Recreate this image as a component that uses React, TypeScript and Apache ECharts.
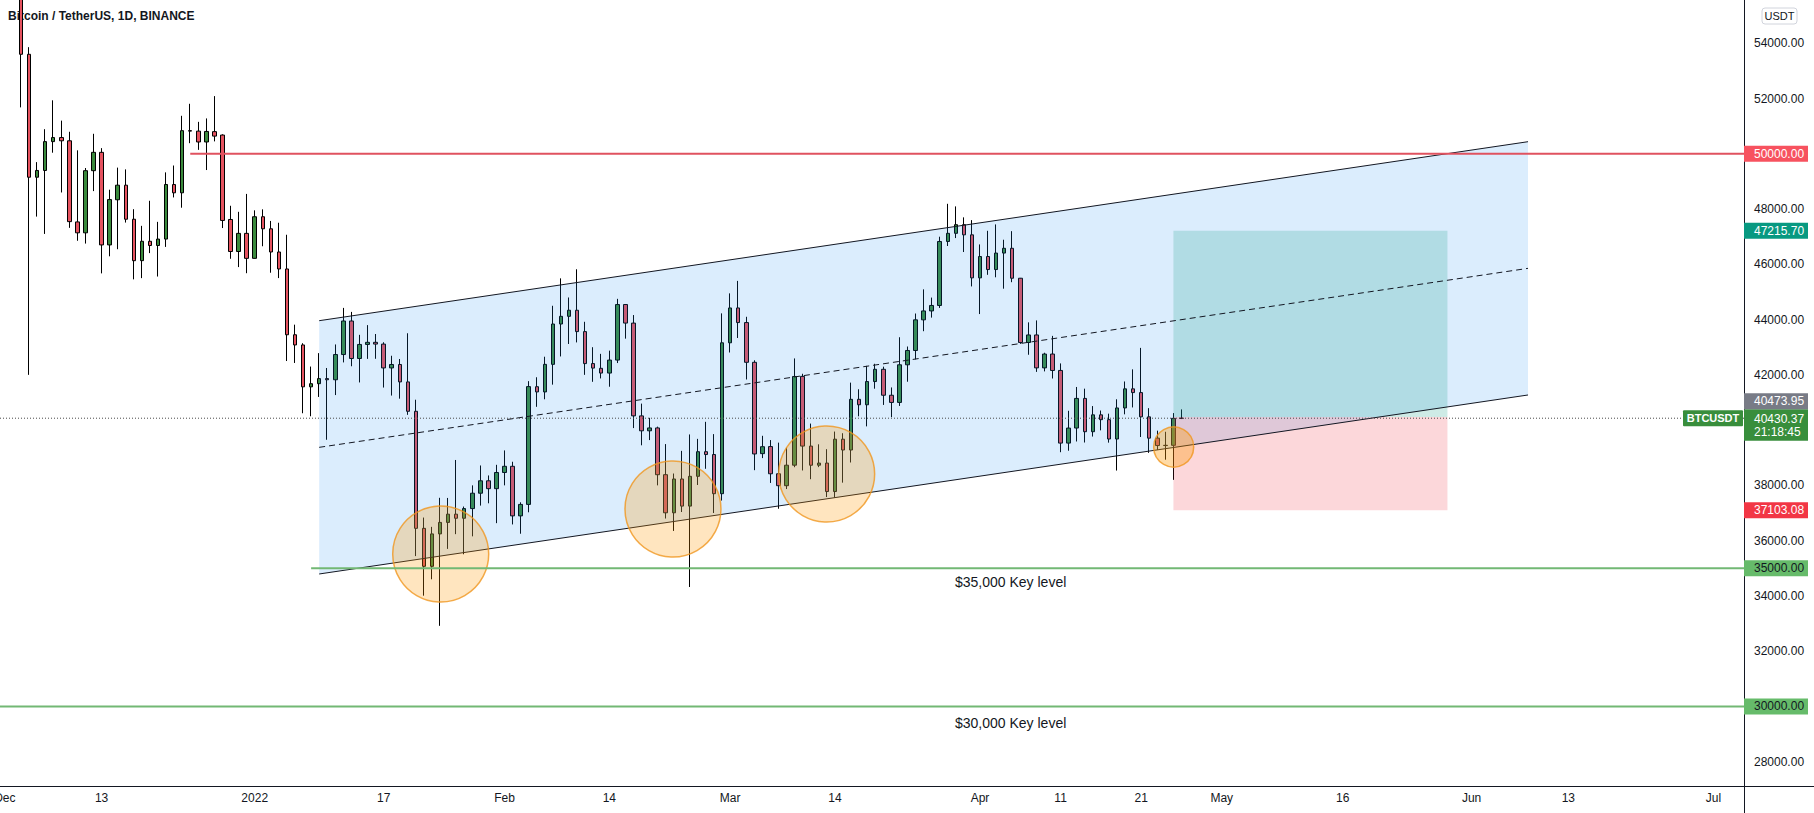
import { useEffect, useRef } from 'react';
import * as echarts from 'echarts';

const FONT = "'Liberation Sans', Arial, sans-serif";

// day index 0 = 1 Dec 2021; candles start on 3 Dec 2021
const firstCandleDay = 2;
// each candle: [open, close, low, high]
const dec21 = [
  [56508, 53601, 51680, 57600], [53601, 49152, 42000, 53859], [49152, 49397, 47727, 49699],
  [49397, 50441, 47100, 50891], [50441, 50588, 50039, 51936], [50588, 50471, 48600, 51200],
  [50471, 47545, 47320, 50797], [47535, 47140, 46852, 50125], [47140, 49389, 46751, 49485],
  [49389, 50053, 48650, 50724], [50053, 46702, 45672, 50205], [46702, 48343, 46290, 48700],
  [48336, 48864, 46547, 49500], [48864, 47632, 47511, 49436], [47632, 46131, 45456, 47995],
  [46133, 46834, 45500, 47392], [46834, 46681, 46406, 48300], [46681, 46914, 45558, 47537],
  [46914, 48889, 46630, 49328], [48887, 48588, 48421, 49576], [48588, 50838, 48049, 51375],
  [50838, 50821, 50384, 51810], [50820, 50428, 50142, 51156], [50428, 50809, 49412, 51280],
  [50802, 50640, 50449, 52088], [50679, 47588, 47313, 50704], [47623, 46464, 46201, 48119],
  [46464, 47120, 45900, 47900], [47120, 46216, 45678, 48548],
];
const jan22 = [
  [46216, 47722, 46208, 47954], [47722, 47286, 46654, 47990], [47286, 46446, 45696, 47570],
  [46446, 45832, 45502, 47505], [45832, 43451, 42500, 47070], [43451, 43082, 42430, 43816],
  [43082, 41566, 40610, 43145], [41566, 41680, 40501, 42300], [41680, 41864, 41200, 42786],
  [41864, 41822, 39650, 42248], [41822, 42735, 41268, 43100], [42735, 43949, 42450, 44423],
  [43949, 42592, 42311, 44278], [42592, 43100, 41725, 43448], [43100, 43177, 42578, 43800],
  [43177, 43113, 42581, 43478], [43113, 42250, 41540, 43180], [42250, 42375, 41250, 42691],
  [42375, 41744, 41138, 42574], [41744, 40681, 40553, 43505], [40681, 36445, 35440, 41100],
  [36445, 35071, 34008, 36835], [35071, 36244, 34601, 36499], [36244, 36660, 32917, 37550],
  [36660, 36958, 35701, 37545], [36958, 36810, 36234, 38919], [36810, 37160, 35507, 37234],
  [37160, 37716, 36155, 38000], [37716, 38166, 37268, 38720], [38166, 37881, 37351, 38359],
  [37881, 38466, 36632, 38744],
];
const feb22 = [
  [38466, 38690, 38000, 39265], [38690, 36896, 36586, 38855], [36896, 37311, 36250, 37387],
  [37311, 41574, 37026, 41772], [41571, 41382, 40843, 41913], [41382, 42380, 41116, 42656],
  [42380, 43840, 41645, 44500], [43840, 44118, 42666, 45492], [44118, 44339, 43117, 44800],
  [44338, 43565, 43174, 45821], [43565, 42407, 42000, 43920], [42408, 42244, 41748, 43000],
  [42236, 42064, 41870, 42760], [42064, 42535, 41570, 42876], [42535, 44544, 42427, 44751],
  [44545, 43873, 43310, 44549], [43873, 40515, 40073, 44164], [40515, 39975, 39450, 40959],
  [39975, 40079, 39639, 40444], [40079, 38386, 38000, 40125], [38387, 37008, 36800, 39494],
  [37008, 38231, 36351, 38429], [38231, 37250, 37036, 39249], [37250, 38328, 34322, 39843],
  [38328, 39219, 38014, 39683], [39219, 39116, 38600, 40300], [39116, 37699, 37000, 39855],
  [37699, 43160, 37450, 44225],
];
const mar22 = [
  [43160, 44421, 42809, 44949], [44421, 43892, 43334, 45400], [43892, 42454, 41832, 44101],
  [42454, 39137, 38550, 42527], [39148, 39400, 38987, 39794], [39404, 38420, 38088, 39640],
  [38420, 37988, 37155, 39547], [37988, 38730, 37867, 39362], [38731, 41941, 38657, 42594],
  [41945, 39422, 38539, 42039], [39422, 38729, 38223, 40236], [38730, 38807, 38660, 39486],
  [38807, 37777, 37578, 39310], [37777, 39671, 37555, 39947], [39671, 39280, 38098, 39887],
  [39280, 41114, 38828, 41718], [41114, 40917, 40500, 41478], [40917, 41757, 40135, 42325],
  [41757, 42201, 41499, 42400], [42201, 41262, 40911, 42296], [41262, 41002, 40468, 41544],
  [41002, 42364, 40875, 43361], [42364, 42882, 41751, 43025], [42882, 43991, 42560, 44220],
  [43991, 44313, 43579, 45094], [44313, 44511, 44071, 44796], [44511, 46827, 44422, 46999],
  [46827, 47122, 46663, 48190], [47122, 47434, 46950, 48096], [47434, 47067, 46445, 47700],
  [47067, 45510, 45200, 47600],
];
const apr22 = [
  [45510, 46283, 44200, 46720], [46283, 45811, 45620, 47213], [45811, 46407, 45530, 47444],
  [46407, 46580, 45118, 46890], [46580, 45497, 45353, 47200], [45497, 43170, 43121, 45507],
  [43171, 43444, 42727, 43900], [43444, 42252, 42107, 43970], [42252, 42753, 42125, 42800],
  [42753, 42158, 41868, 43410], [42159, 39530, 39200, 42414], [39530, 40074, 39254, 40699],
  [40075, 41147, 39588, 41561], [41147, 39942, 39551, 41500], [39942, 40552, 39766, 40870],
  [40552, 40378, 39991, 40709], [40378, 39678, 39546, 40595], [39678, 40802, 38536, 41116],
  [40802, 41493, 40571, 41760], [41493, 41358, 40820, 42199], [41358, 40480, 39751, 42976],
  [40480, 39709, 39177, 40795], [39709, 39441, 39285, 39980], [39441, 39450, 38929, 39940],
  [39450, 40426, 38200, 40616], [40426, 40430.37, 40400, 40750],
];

const xTickDays = [0, 12, 31, 47, 62, 75, 90, 103, 121, 131, 141, 151, 166, 182, 194, 212];
const xTickLabels = ['Dec', '13', '2022', '17', 'Feb', '14', 'Mar', '14', 'Apr', '11', '21', 'May', '16', 'Jun', '13', 'Jul'];
const yTickValues = [28000, 32000, 34000, 36000, 38000, 42000, 44000, 46000, 48000, 52000, 54000];

const xMin = -0.6055;
const xMax = 215.8;
const yMin = 27120;
const yMax = 55566;

// drawings
const channelDays = [39, 189];
const channelTop = [43960, 50438];
const channelBottom = [34793, 41271];

const levelPrices = [50000, 35000, 30000];
const levelStartDays = [23, 38, xMin];
const levelColors = ['#e0525f', '#72b874', '#72b874'];
const keyLevelTexts = ['$35,000 Key level', '$30,000 Key level'];
const keyLevelTextDay = 124.8;
const keyLevelTextPrices = [34504, 29401];

const circleDays = [54.08, 82.9, 101.97, 145.03];
const circlePrices = [35517, 37145, 38412, 39389];
const circleRadii = [48, 48, 48, 20];
const circleAlphas = [0.25, 0.25, 0.25, 0.35];

const positionDays = [145, 179];
const entryPrice = 40473.95;
const targetPrice = 47215.7;
const stopPrice = 37103.08;
const lastPrice = 40430.37;
const countdown = '21:18:45';

const axisTags = [
  { price: 50000, bg: '#f7525f', fg: '#ffffff' },
  { price: 47215.7, bg: '#089981', fg: '#ffffff' },
  { price: 37103.08, bg: '#f23645', fg: '#ffffff' },
  { price: 35000, bg: '#66bb6a', fg: '#131722' },
  { price: 30000, bg: '#66bb6a', fg: '#131722' },
];

const candleData = [...dec21, ...jan22, ...feb22, ...mar22, ...apr22].map((c, i) => [
  firstCandleDay + i, c[0], c[1], c[2], c[3],
]);

function seg(a: number[], b: number[], stroke: string, lineWidth: number, dash?: number[]) {
  return {
    type: 'line',
    shape: { x1: a[0], y1: a[1], x2: b[0], y2: b[1] },
    style: { stroke, lineWidth, lineDash: dash || null, fill: null },
  };
}

function renderDrawings(params: any, api: any) {
  const cs = params.coordSys;
  const right = cs.x + cs.width;
  const pt = (d: number, p: number) => api.coord([d, p]);
  const kids: any[] = [];

  const tl = pt(channelDays[0], channelTop[0]);
  const tr = pt(channelDays[1], channelTop[1]);
  const bl = pt(channelDays[0], channelBottom[0]);
  const br = pt(channelDays[1], channelBottom[1]);
  kids.push({ type: 'polygon', shape: { points: [tl, tr, br, bl] }, style: { fill: 'rgba(33,140,243,0.16)' } });

  // long position
  const eL = pt(positionDays[0], entryPrice);
  const eR = pt(positionDays[1], entryPrice);
  const tY = pt(positionDays[0], targetPrice)[1];
  const sY = pt(positionDays[0], stopPrice)[1];
  kids.push({ type: 'rect', shape: { x: eL[0], y: tY, width: eR[0] - eL[0], height: eL[1] - tY }, style: { fill: 'rgba(8,153,129,0.2)' } });
  kids.push({ type: 'rect', shape: { x: eL[0], y: eL[1], width: eR[0] - eL[0], height: sY - eL[1] }, style: { fill: 'rgba(242,54,69,0.2)' } });

  // channel lines
  kids.push(seg(tl, tr, '#131722', 1));
  kids.push(seg(bl, br, '#131722', 1));
  const ml = [(tl[0] + bl[0]) / 2, (tl[1] + bl[1]) / 2];
  const mr = [(tr[0] + br[0]) / 2, (tr[1] + br[1]) / 2];
  kids.push(seg(ml, mr, '#131722', 1, [6, 4]));

  // circles
  circleDays.forEach((d, i) => {
    const c = pt(d, circlePrices[i]);
    kids.push({
      type: 'circle',
      shape: { cx: c[0], cy: c[1], r: circleRadii[i] },
      style: { fill: `rgba(255,152,0,${circleAlphas[i]})`, stroke: 'rgba(240,150,30,0.8)', lineWidth: 1.5 },
    });
  });

  // horizontal levels
  levelPrices.forEach((p, i) => {
    const a = pt(levelStartDays[i], p);
    kids.push(seg(a, [right, a[1]], levelColors[i], 2));
  });

  keyLevelTexts.forEach((t, i) => {
    const c = pt(keyLevelTextDay, keyLevelTextPrices[i]);
    kids.push({
      type: 'text', x: c[0], y: c[1],
      style: { text: t, fill: '#131722', font: `14px ${FONT}`, align: 'center', verticalAlign: 'middle' },
    });
  });

  // last price line
  const lp = pt(xMin, lastPrice);
  kids.push(seg([cs.x, lp[1]], [right, lp[1]], '#4a4a4a', 1, [1, 2]));

  // symbol label
  kids.push({ type: 'rect', shape: { x: right - 61, y: lp[1] - 8, width: 60, height: 16, r: 1 }, style: { fill: '#388e3c' } });
  kids.push({
    type: 'text', x: right - 31, y: lp[1],
    style: { text: 'BTCUSDT', fill: '#ffffff', font: `bold 11px ${FONT}`, align: 'center', verticalAlign: 'middle' },
  });

  // axis tags
  const tagW = 64;
  axisTags.forEach((t) => {
    const y = pt(xMin, t.price)[1];
    kids.push({ type: 'rect', shape: { x: right, y: y - 8, width: tagW, height: 16 }, style: { fill: t.bg } });
    kids.push({
      type: 'text', x: right + 10, y,
      style: { text: t.price.toFixed(2), fill: t.fg, font: `12px ${FONT}`, align: 'left', verticalAlign: 'middle' },
    });
  });
  const gTop = lp[1] - 9;
  kids.push({ type: 'rect', shape: { x: right, y: gTop, width: tagW, height: 31.5 }, style: { fill: '#388e3c' } });
  kids.push({
    type: 'text', x: right + 10, y: gTop + 9.5,
    style: { text: lastPrice.toFixed(2), fill: '#ffffff', font: `12px ${FONT}`, align: 'left', verticalAlign: 'middle' },
  });
  kids.push({
    type: 'text', x: right + 10, y: gTop + 23,
    style: { text: countdown, fill: '#ffffff', font: `12px ${FONT}`, align: 'left', verticalAlign: 'middle' },
  });
  kids.push({ type: 'rect', shape: { x: right, y: gTop - 16, width: tagW, height: 16 }, style: { fill: '#787b86' } });
  kids.push({
    type: 'text', x: right + 10, y: gTop - 8,
    style: { text: entryPrice.toFixed(2), fill: '#ffffff', font: `12px ${FONT}`, align: 'left', verticalAlign: 'middle' },
  });

  return { type: 'group', children: kids };
}

export default function App() {
  const ref = useRef<HTMLDivElement>(null);

  useEffect(() => {
    document.body.style.margin = '0';
    if (!ref.current) return;
    const chart = echarts.init(ref.current, null, { renderer: 'svg' });
    chart.setOption({
      animation: false,
      backgroundColor: '#ffffff',
      grid: { left: 0, right: 70, top: 0, bottom: 27, containLabel: false, outerBoundsMode: 'none' },
      xAxis: {
        type: 'value',
        min: xMin,
        max: xMax,
        splitLine: { show: false },
        axisTick: { show: false },
        axisLine: { show: true, onZero: false, lineStyle: { color: '#131722', width: 1 } },
        axisLabel: {
          customValues: xTickDays,
          formatter: (v: number) => {
            const i = xTickDays.indexOf(Math.round(v));
            return i >= 0 ? xTickLabels[i] : '';
          },
          color: '#131722',
          fontSize: 12,
          fontFamily: FONT,
          margin: 6,
          hideOverlap: false,
        },
      },
      yAxis: {
        type: 'value',
        position: 'right',
        min: yMin,
        max: yMax,
        splitLine: { show: false },
        axisTick: { show: false },
        axisLine: { show: true, onZero: false, lineStyle: { color: '#131722', width: 1 } },
        axisLabel: {
          customValues: yTickValues,
          formatter: (v: number) => v.toFixed(2),
          color: '#131722',
          fontSize: 12,
          fontFamily: FONT,
          margin: 10,
        },
      },
      graphic: [
        {
          type: 'text', left: 8, top: 10, z: 0,
          style: { text: 'Bitcoin / TetherUS, 1D, BINANCE', fill: '#131722', font: `bold 12px ${FONT}` },
        },
        { type: 'line', z: 10, shape: { x1: 1744, y1: 786.5, x2: 1814, y2: 786.5 }, style: { stroke: '#131722', lineWidth: 1 } },
        { type: 'line', z: 10, shape: { x1: 1744.5, y1: 786, x2: 1744.5, y2: 813 }, style: { stroke: '#131722', lineWidth: 1 } },
        {
          type: 'rect', z: 10, shape: { x: 1762, y: 8, width: 35, height: 16, r: 3 },
          style: { fill: '#ffffff', stroke: '#d1d4dc', lineWidth: 1 },
        },
        {
          type: 'text', z: 11, x: 1779.5, y: 16,
          style: { text: 'USDT', fill: '#131722', font: `11px ${FONT}`, align: 'center', verticalAlign: 'middle' },
        },
      ],
      series: [
        {
          type: 'candlestick',
          z: 2,
          barWidth: 4,
          dimensions: ['day', 'open', 'close', 'low', 'high'],
          encode: { x: 0, y: [1, 2, 3, 4] },
          data: candleData,
          itemStyle: {
            color: '#3a8a3c',
            color0: '#e5525f',
            borderColor: '#000000',
            borderColor0: '#000000',
            borderColorDoji: '#000000',
            borderWidth: 1,
          },
        },
        {
          type: 'custom',
          z: 3,
          silent: true,
          clip: false,
          renderItem: renderDrawings,
          data: [[0, 40000]],
        },
      ],
    });
    return () => chart.dispose();
  }, []);

  return <div ref={ref} style={{ width: 1814, height: 813, position: 'absolute', left: 0, top: 0 }} />;
}
